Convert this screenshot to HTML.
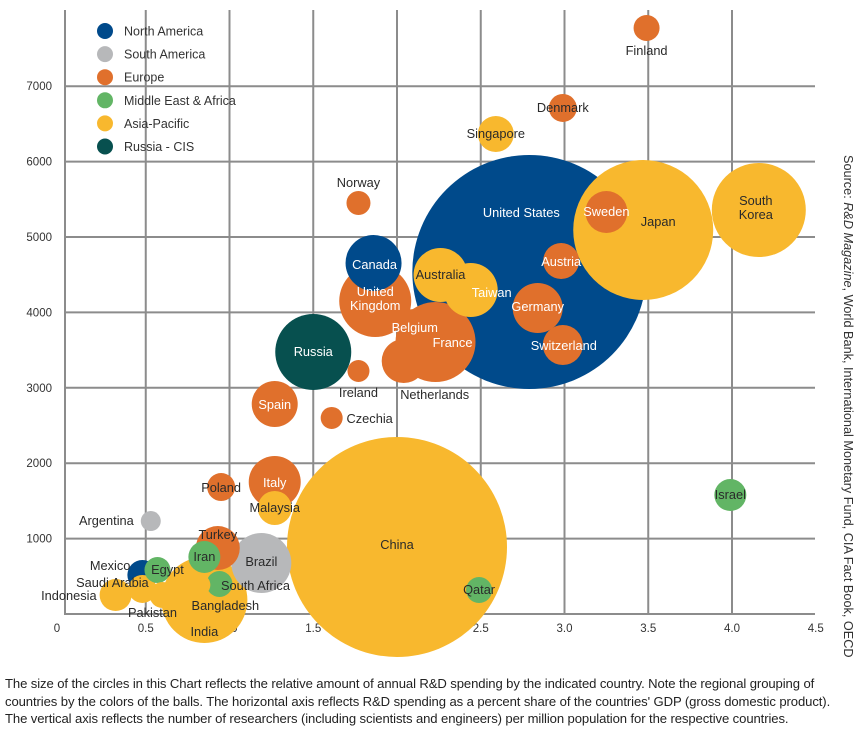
<!DOCTYPE html>
<html><head><meta charset="utf-8"><style>
html,body{margin:0;padding:0;background:#fff;}
body{width:864px;height:734px;overflow:hidden;font-family:"Liberation Sans",sans-serif;}
#caption{position:absolute;left:5px;top:675px;white-space:nowrap;font-size:13.1px;line-height:17.5px;color:#222;letter-spacing:-0.1px;}
</style></head><body>
<svg id="chart" width="864" height="734" style="position:absolute;left:0;top:0" font-family="Liberation Sans, sans-serif"></svg>
<div id="caption">The size of the circles in this Chart reflects the relative amount of annual R&amp;D spending by the indicated country. Note the regional grouping of<br>countries by the colors of the balls. The horizontal axis reflects R&amp;D spending as a percent share of the countries' GDP (gross domestic product).<br>The vertical axis reflects the number of researchers (including scientists and engineers) per million population for the respective countries.</div>
<script>
const countries=["Finland","Denmark","Singapore","Norway","United States","Japan","South Korea","Sweden","Austria","Germany","Switzerland","Canada","United Kingdom","Australia","Taiwan","France","Belgium","Netherlands","Russia","Ireland","Czechia","Spain","China","Israel","Qatar","Poland","Italy","Malaysia","Argentina","Turkey","Iran","Brazil","Mexico","Egypt","Saudi Arabia","Indonesia","Pakistan","India","Bangladesh","South Africa"];
const regions=["EU","EU","AP","EU","NA","AP","AP","EU","EU","EU","EU","NA","EU","AP","AP","EU","EU","EU","RU","EU","EU","EU","AP","ME","ME","EU","EU","AP","SA","EU","ME","SA","NA","ME","AP","AP","AP","AP","AP","ME"];
const rdShare=[3.49,2.99,2.59,1.77,2.79,3.47,4.16,3.25,2.98,2.84,2.99,1.86,1.87,2.26,2.44,2.23,2.10,2.04,1.50,1.77,1.61,1.27,2.00,3.99,2.49,0.95,1.27,1.27,0.53,0.93,0.85,1.19,0.48,0.57,0.48,0.32,0.60,0.85,0.82,0.94];
const researchers=[7772,6711,6366,5451,4536,5093,5358,5332,4682,4058,3568,4655,4151,4496,4297,3607,3820,3355,3475,3223,2600,2785,889,1578,318,1684,1751,1406,1233,875,756,676,517,584,332,252,252,186,385,398];
const spend=[1.69,1.96,3.24,1.44,136.9,49,22.1,4.41,3.24,6.25,4,7.84,12.96,7.29,7.29,16,2.89,4.84,14.44,1.21,1.21,5.29,121,2.56,1.69,1.96,6.76,2.89,1,4.84,2.56,9,2.25,1.69,1.96,2.56,1.69,18.49,1.21,1.69];
const xTicks=[0,0.5,1.0,1.5,2.0,2.5,3.0,3.5,4.0,4.5];
const xTickLabels=["0","0.5","1.0","1.5","2.0","2.5","3.0","3.5","4.0","4.5"];
const yTicks=[1000,2000,3000,4000,5000,6000,7000];
const legendNames=["North America","South America","Europe","Middle East & Africa","Asia-Pacific","Russia - CIS"];
const legendKeys=["NA","SA","EU","ME","AP","RU"];

const colors={NA:"#004a8b",SA:"#b7b8ba",EU:"#e0702c",ME:"#62b565",AP:"#f8b82e",RU:"#07504f"};
const labelLayout={"Finland":[0,27,"middle","d"],"Denmark":[0,4,"middle","d"],"Singapore":[0,4,"middle","d"],"Norway":[0,-16,"middle","d"],
"United States":[-8,-55,"middle","w"],"Japan":[15,-4,"middle","d"],"South Korea":[-3,-3,"middle","d"],"Sweden":[0,4,"middle","w"],"Austria":[0,5,"middle","w"],
"Germany":[0,3,"middle","w"],"Switzerland":[1,5,"middle","w"],"Canada":[1,6,"middle","w"],"United Kingdom":[0,-3,"middle","w"],"Australia":[0,4,"middle","d"],
"Taiwan":[21,7,"middle","w"],"France":[17,5,"middle","w"],"Belgium":[1,6,"middle","w"],"Netherlands":[31,38,"middle","d"],"Russia":[0,4,"middle","w"],
"Ireland":[0,26,"middle","d"],"Czechia":[38,5,"middle","d"],"Spain":[0,5,"middle","w"],"China":[0,2,"middle","d"],"Israel":[0,4,"middle","d"],"Qatar":[0,4,"middle","d"],
"Poland":[0,5,"middle","d"],"Italy":[0,5,"middle","w"],"Malaysia":[0,4,"middle","d"],"Argentina":[-17,4,"end","d"],"Turkey":[0,-9,"middle","d"],"Iran":[0,4,"middle","d"],
"Brazil":[0,3,"middle","d"],"Mexico":[-12,-5,"end","d"],"Egypt":[10,4,"middle","d"],"Saudi Arabia":[-30,-2,"middle","d"],"Indonesia":[-19,5,"end","d"],
"Pakistan":[-10,22,"middle","d"],"India":[0,36,"middle","d"],"Bangladesh":[26,25,"middle","d"],"South Africa":[36,6,"middle","d"]};

const NS="http://www.w3.org/2000/svg";
const svg=document.getElementById('chart');
const X0=62,XK=167.5,Y0=614,YK=0.0754,PL=65,PR=815,PT=10;
const xs=v=>X0+v*XK, ys=v=>Y0-v*YK, rs=s=>10*Math.sqrt(s);
function mk(tag,attrs,parent){const e=document.createElementNS(NS,tag);for(const k in attrs)e.setAttribute(k,attrs[k]);(parent||svg).appendChild(e);return e;}

const grid=mk('g',{});


xTicks.forEach((t,i)=>{
  if(i>0&&t<4.5){const l=mk('line',{x1:xs(t),x2:xs(t),y1:PT,y2:Y0,stroke:"#8c8c8c","stroke-width":2},grid);
  
  }
  const tx=mk('text',{x:i==0?57:xs(t),y:632,"text-anchor":"middle","font-size":"11.5",fill:"#333"});
  tx.textContent=xTickLabels[i];
  
  
});
yTicks.forEach(t=>{
  const l=mk('line',{x1:PL,x2:PR,y1:ys(t),y2:ys(t),stroke:"#8c8c8c","stroke-width":2},grid);
  
  
  const tx=mk('text',{x:52,y:ys(t)+4,"text-anchor":"end","font-size":"11.5",fill:"#333"});
  tx.textContent=t;
  
  
});
const ax=mk('path',{d:`M${PL} ${PT}V${Y0}H${PR}`,stroke:"#8c8c8c","stroke-width":2,fill:"none"});



const order=countries.map((c,i)=>i).sort((a,b)=>spend[b]-spend[a]);
const bub=mk('g',{});


order.forEach(i=>{
  const c=mk('circle',{cx:xs(rdShare[i]),cy:ys(researchers[i]),r:rs(spend[i]),fill:colors[regions[i]]},bub);
  
  
});
const lab=mk('g',{});


countries.forEach((n,i)=>{
  const L=labelLayout[n];const x=xs(rdShare[i])+L[0],y=ys(researchers[i])+L[1];
  const t=mk('text',{x:x,y:y,"text-anchor":L[2],"font-size":"12.8",fill:L[3]=="w"?"#fff":"#2a2a2a"},lab);
  
  
  if(n=="United Kingdom"||n=="South Korea"){
    const parts=n.split(' ');
    parts.forEach((p,k)=>{const s=mk('tspan',{x:x,dy:k==0?-2:14},t);s.textContent=p;});
  } else t.textContent=n;
});

const leg=mk('g',{});


legendNames.forEach((n,i)=>{
  const y=31+i*23.1;
  const c=mk('circle',{cx:105,cy:y,r:8,fill:colors[legendKeys[i]]},leg);
  
  
  const t=mk('text',{x:124,y:y+4.5,"font-size":"12.5",fill:"#333"},leg);
  t.textContent=n;
  
  
});

const src=mk('text',{x:0,y:0,transform:"translate(844,155) rotate(90)","font-size":"12.7",fill:"#333"});


const a=mk('tspan',{},src);a.textContent="Source: ";
const b=mk('tspan',{"font-style":"italic"},src);b.textContent="R&D Magazine";
const c2=mk('tspan',{},src);c2.textContent=", World Bank, International Monetary Fund, CIA Fact Book, OECD";
</script>
</body></html>
